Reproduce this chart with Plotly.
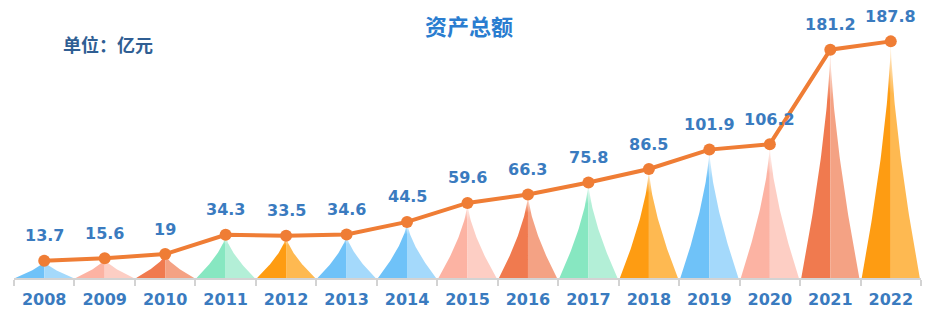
import plotly.graph_objects as go
import numpy as np

years = [str(y) for y in range(2008, 2023)]
values = [13.7, 15.6, 19, 34.3, 33.5, 34.6, 44.5, 59.6, 66.3, 75.8, 86.5, 101.9, 106.2, 181.2, 187.8]

BLUE = ("#6fc2f8", "#a4d9fb")
PINK = ("#fcb3a3", "#fdcec4")
RED = ("#f07a4f", "#f4a284")
GREEN = ("#87e7c1", "#b3efd7")
ORANGE = ("#fe9c12", "#feb951")
spike_colors = [BLUE, PINK, RED, GREEN, ORANGE, BLUE, BLUE, PINK, RED, GREEN, ORANGE, BLUE, PINK, RED, ORANGE]

title_text = "资产总额"
unit_text = "单位：亿元"


def rgba(hexc, a):
    h = hexc.lstrip("#")
    r, g, b = int(h[0:2], 16), int(h[2:4], 16), int(h[4:6], 16)
    return f"rgba({r},{g},{b},{a})"


fig = go.Figure()
hw = 0.48
p = 1.5
s = np.linspace(0, 1, 61)
for i, (v, (c_dark, c_light)) in enumerate(zip(values, spike_colors)):
    for side, col in ((-1, c_dark), (1, c_light)):
        xs = list(i + side * hw * (1 - s) ** p) + [i, i + side * hw]
        ys = list(v * s) + [0, 0]
        fig.add_trace(go.Scatter(
            x=xs, y=ys, mode="lines", line=dict(width=0), fill="toself",
            fillgradient=dict(type="vertical", start=0, stop=v,
                              colorscale=[[0, rgba(col, 1)], [0.78, rgba(col, 1)], [1, rgba(col, 0.05)]]),
            hoverinfo="skip", showlegend=False))

fig.add_trace(go.Scatter(
    x=list(range(len(years))), y=values, mode="lines+markers",
    line=dict(color="#ef7d35", width=4),
    marker=dict(color="#ef7d35", size=12),
    showlegend=False))

for i, v in enumerate(values):
    fig.add_annotation(x=i, y=v, text=f"{v:g}", showarrow=False, yshift=25,
                       font=dict(family="DejaVu Sans", size=16, color="#3a7bbf", weight="bold"))

fig.add_annotation(text=title_text, xref="paper", yref="paper", x=0.5, y=1, xanchor="center",
                   yanchor="middle", yshift=1, xshift=1, showarrow=False,
                   font=dict(family="Noto Sans CJK SC", size=22, color="#2a7dd0", weight="bold"))
fig.add_annotation(text=unit_text, xref="paper", yref="paper", x=0, y=1, xanchor="left",
                   yanchor="middle", xshift=47, yshift=-18, showarrow=False,
                   font=dict(family="Noto Sans CJK SC", size=18, color="#2f5e93", weight="bold"))

fig.update_xaxes(range=[-0.5, len(years) - 0.5], tickmode="array", tickvals=list(range(len(years))),
                 ticktext=years, ticks="", showgrid=False, zeroline=False,
                 showline=True, linecolor="#d3d3d3", linewidth=1.5, ticklabelstandoff=6,
                 tickfont=dict(family="DejaVu Sans", size=16, color="#3a7bbf", weight="bold"),
                 minor=dict(tickmode="array", tickvals=[k - 0.5 for k in range(len(years) + 1)],
                            ticks="outside", ticklen=6, tickcolor="#d3d3d3", tickwidth=1.5, showgrid=False),
                 fixedrange=True)
fig.update_yaxes(range=[0, 200], visible=False, showgrid=False, zeroline=False, fixedrange=True)

fig.update_layout(width=934, height=334, margin=dict(l=14, r=13, t=26, b=56),
                  paper_bgcolor="white", plot_bgcolor="white", showlegend=False)

fig.write_html("out.html")
